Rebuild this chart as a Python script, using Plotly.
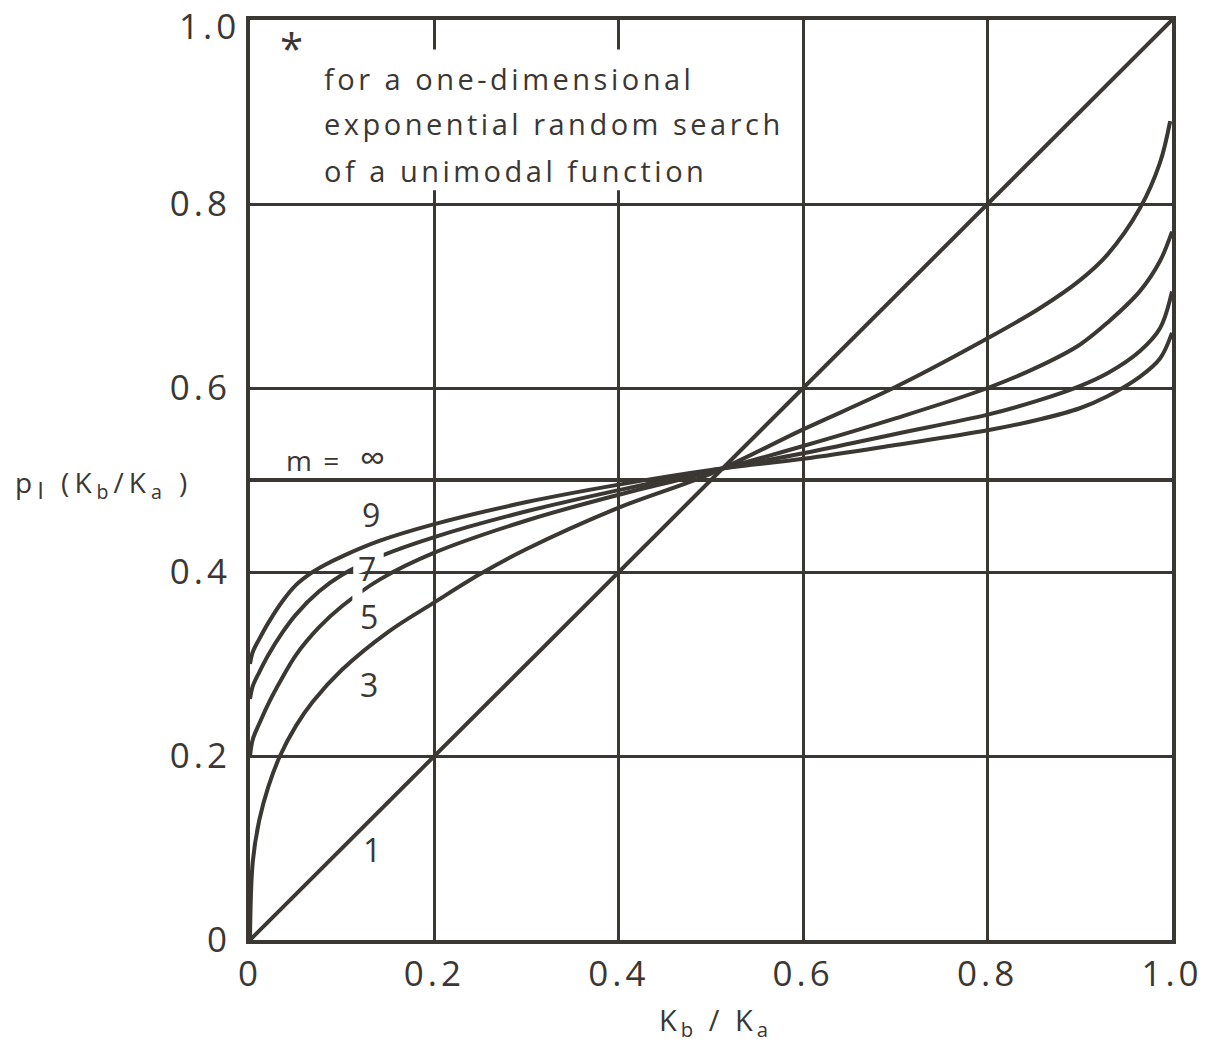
import plotly.graph_objects as go

# ---------------- data ----------------
tick_vals = [0.0, 0.2, 0.4, 0.6, 0.8, 1.0]
tick_text = ["0", "0.2", "0.4", "0.6", "0.8", "1.0"]

# m = 1 (diagonal) and m = infinity (horizontal)
m1_x = [0.0, 1.0]
m1_y = [0.0, 1.0]
minf_x = [0.0, 1.0]
minf_y = [0.5, 0.5]

# m = 3
m3_x = [0.0, 0.003, 0.01, 0.02, 0.0325, 0.05, 0.068, 0.1, 0.15, 0.2, 0.25,
        0.3, 0.4, 0.5, 0.6, 0.7, 0.8, 0.857, 0.9, 0.93, 0.965, 0.987, 0.998]
m3_y = [0.0, 0.085, 0.13, 0.167, 0.2, 0.233, 0.259, 0.294, 0.335, 0.367, 0.398,
        0.425, 0.47, 0.507, 0.555, 0.601, 0.654, 0.687, 0.717, 0.745, 0.795, 0.845, 0.89]

# m = 5 and m = 7
m57_x = [0.0, 0.003, 0.01, 0.02, 0.035, 0.05, 0.075, 0.1, 0.141, 0.2, 0.3, 0.4, 0.5,
         0.6, 0.7, 0.8, 0.857, 0.9, 0.93, 0.965, 0.987, 1.0]
m5_y = [0.2, 0.218, 0.235, 0.257, 0.285, 0.31, 0.34, 0.363, 0.392, 0.421, 0.456, 0.484,
        0.509, 0.537, 0.567, 0.6, 0.624, 0.647, 0.671, 0.705, 0.738, 0.77]
m7_y = [0.262, 0.276, 0.291, 0.31, 0.334, 0.354, 0.379, 0.397, 0.417, 0.438, 0.466, 0.489,
        0.51, 0.529, 0.55, 0.571, 0.587, 0.602, 0.616, 0.64, 0.665, 0.705]

# m = 9
m9_x = [0.0, 0.003, 0.01, 0.02, 0.035, 0.05, 0.065, 0.08, 0.1, 0.141, 0.2, 0.3, 0.4,
        0.5, 0.6, 0.7, 0.8, 0.857, 0.9, 0.93, 0.965, 0.987, 1.0]
m9_y = [0.3, 0.313, 0.327, 0.345, 0.368, 0.386, 0.398, 0.407, 0.417, 0.434, 0.452, 0.476,
        0.495, 0.511, 0.523, 0.538, 0.554, 0.566, 0.578, 0.591, 0.612, 0.632, 0.66]

curve_labels = ["1", "3", "5", "7", "9"]

# ---------------- style ----------------
INK = "#3b3733"
FONT = "Open Sans"
TICK_SIZE = 35


def spaced(txt, px):
    return f'<span style="letter-spacing:{px}px">{txt}</span>'


fig = go.Figure()

series = [
    (m1_x, m1_y, "linear"),
    (minf_x, minf_y, "linear"),
    (m3_x, m3_y, "spline"),
    (m57_x, m5_y, "spline"),
    (m57_x, m7_y, "spline"),
    (m9_x, m9_y, "spline"),
]
for xs, ys, shape in series:
    line = dict(color=INK, width=4, shape=shape)
    if shape == "spline":
        line["smoothing"] = 1.0
    fig.add_trace(go.Scatter(x=xs, y=ys, mode="lines", line=line,
                             hoverinfo="skip", showlegend=False))

axis_common = dict(
    range=[0, 1],
    tickvals=tick_vals,
    showgrid=True,
    gridcolor=INK,
    gridwidth=2.7,
    showline=True,
    mirror=True,
    linecolor=INK,
    linewidth=4,
    ticks="",
    zeroline=False,
    automargin=False,
    tickfont=dict(family=FONT, size=TICK_SIZE, color=INK),
    ticklabeloverflow="allow",
    fixedrange=True,
)

x_ticktext = [spaced(t, 4) for t in tick_text]
# the top y label is drawn as an annotation so that it stays inside the page
y_ticktext = [spaced(t, 4) for t in tick_text[:-1]] + [""]

fig.update_layout(
    template="none",
    width=1207,
    height=1055,
    margin=dict(l=250, r=35, t=20, b=115, autoexpand=False),
    paper_bgcolor="white",
    plot_bgcolor="white",
    font=dict(family=FONT, color=INK),
    xaxis=dict(**axis_common, ticktext=x_ticktext, ticklabelstandoff=0),
    yaxis=dict(**axis_common, ticktext=y_ticktext, ticklabelstandoff=8),
    showlegend=False,
)

fig.add_annotation(x=0, y=1, xref="paper", yref="paper", text=spaced(tick_text[-1], 4),
                   showarrow=False, xanchor="right", yanchor="top", xshift=-8, yshift=20,
                   font=dict(family=FONT, size=TICK_SIZE, color=INK))

# white patches: broken gridlines behind the note, and gaps at the curve labels
fig.add_shape(type="rect", xref="x", yref="y", x0=0.1, x1=0.5, y0=0.815, y1=0.968,
              fillcolor="white", line=dict(width=0), layer="above")
fig.add_shape(type="path", xref="x", yref="y",
              path="M 0.112 0.396 L 0.145 0.408 L 0.145 0.428 L 0.112 0.414 Z",
              fillcolor="white", line=dict(width=0), layer="above")
fig.add_shape(type="path", xref="x", yref="y",
              path="M 0.111 0.362 L 0.122 0.366 L 0.122 0.384 L 0.111 0.380 Z",
              fillcolor="white", line=dict(width=0), layer="above")

# note text
note_lines = ["for a one-dimensional", "exponential random search", "of a unimodal function"]
note_y = [0.936, 0.887, 0.836]
for t, yy in zip(note_lines, note_y):
    fig.add_annotation(x=0.078, y=yy, xref="x", yref="y", text=spaced(t, 3.5),
                       showarrow=False, xanchor="left", yanchor="middle",
                       font=dict(family=FONT, size=29, color=INK))
fig.add_annotation(x=0.0455, y=0.9696, xref="x", yref="y", text="*",
                   showarrow=False, xanchor="center", yanchor="middle",
                   font=dict(family=FONT, size=42, color=INK))

# curve labels
fig.add_annotation(x=0.094, y=0.524, xref="x", yref="y",
                   text=spaced('m =  <span style="font-size:36px">∞</span>', 2),
                   showarrow=False, font=dict(family=FONT, size=28, color=INK))
label_pos = {"9": (0.131, 0.462), "7": (0.127, 0.404), "5": (0.129, 0.352),
             "3": (0.129, 0.278), "1": (0.132, 0.098)}
for lab in curve_labels:
    lx, ly = label_pos[lab]
    fig.add_annotation(x=lx, y=ly, xref="x", yref="y", text=lab, showarrow=False,
                       font=dict(family=FONT, size=32, color=INK))

# axis titles
fig.add_annotation(x=0.505, y=-0.089, xref="paper", yref="paper",
                   text=spaced("K<sub>b</sub> / K<sub>a</sub>", 4),
                   showarrow=False, xanchor="center", yanchor="middle",
                   font=dict(family=FONT, size=29, color=INK))
fig.add_annotation(x=-0.257, y=0.495, xref="paper", yref="paper",
                   text=spaced('p<sub><span style="font-size:24px">I</span></sub> '
                               '(K<sub>b</sub>/K<sub>a</sub> )', 5),
                   showarrow=False, xanchor="left", yanchor="middle",
                   font=dict(family=FONT, size=28, color=INK))

fig.write_html("out.html", config={"displayModeBar": False},
               post_script="document.body.style.margin='0';")
